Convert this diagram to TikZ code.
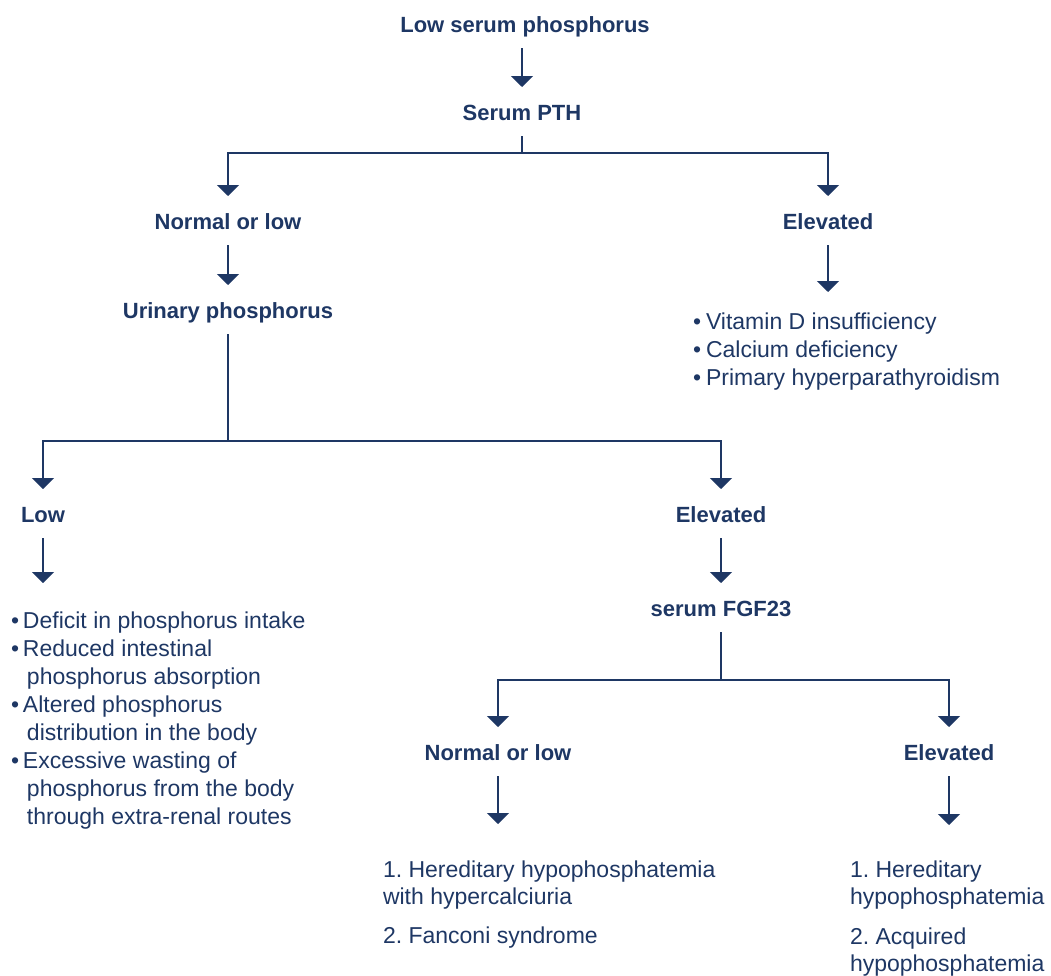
\documentclass[tikz,border=0pt]{standalone}
\usepackage{fontspec}
\setmainfont{Liberation Sans}
\usetikzlibrary{arrows.meta}
\definecolor{navy}{RGB}{30,55,100}
\newcommand\blt[1]{\makebox[#1][l]{•}}
\frenchspacing
\begin{document}
\begin{tikzpicture}[x=1pt,y=-1pt,
  every node/.style={inner sep=0pt,text=navy},
  head/.style={font=\fontsize{22}{26}\selectfont\bfseries,anchor=base,
    text height=17pt,text depth=0pt,outer xsep=0pt,outer ysep=16pt},
  body/.style={font=\fontsize{23}{28}\selectfont,anchor=base west,align=left,outer sep=0pt},
  line/.style={draw=navy,line width=2pt},
  arr/.style={line,-{Triangle[width=22pt,length=11pt]}}]
\useasboundingbox (0,0) rectangle (1051,975);

% headings
\node[head] (lsp) at (525,32)  {Low serum phosphorus};
\node[head] (pth) at (522,120) {Serum PTH};
\node[head] (nl1) at (228,229) {Normal or low};
\node[head] (el1) at (828,229) {Elevated};
\node[head] (uri) at (228,318) {Urinary phosphorus};
\node[head] (low) at (43,522)  {Low};
\node[head] (el2) at (721,522) {Elevated};
\node[head] (fgf) at (721,616) {serum FGF23};
\node[head] (nl2) at (498,760) {Normal or low};
\node[head] (el3) at (949,760) {Elevated};

% lists (anchor = baseline of the last line)
\node[body] (vit) at (693,385) {\blt{13pt}Vitamin D insufficiency\\
  \blt{13pt}Calcium deficiency\\
  \blt{13pt}Primary hyperparathyroidism};
\node[body] (cause) at (11,824) {\blt{12pt}Deficit in phosphorus intake\\
  \blt{12pt}Reduced intestinal\\
  \hspace*{16pt}phosphorus absorption\\
  \blt{12pt}Altered phosphorus\\
  \hspace*{16pt}distribution in the body\\
  \blt{12pt}Excessive wasting of\\
  \hspace*{16pt}phosphorus from the body\\
  \hspace*{16pt}through extra-renal routes};
\node[body,font=\fontsize{23}{27}\selectfont] (hhc) at (383,943) {1. Hereditary hypophosphatemia\\
  with hypercalciuria\\[12pt]
  2. Fanconi syndrome};
\node[body,font=\fontsize{23}{27}\selectfont] (hh) at (850,971) {1. Hereditary\\
  hypophosphatemia\\[13pt]
  2. Acquired\\
  hypophosphatemia};

% junctions and free ends
\coordinate (j1) at (522,153);
\coordinate (j2) at (228,441);
\coordinate (j3) at (721,680);
\coordinate (vitTop) at (828,292);
\coordinate (lowEnd) at (43,583);
\coordinate (nl2End) at (498,824);
\coordinate (el3End) at (949,825);

% connectors
\draw[arr] (lsp.south -| pth) -- (pth);
\draw[line] (pth) -- (j1);
\draw[arr] (j1) -| (nl1);
\draw[arr] (j1) -| (el1);
\draw[arr] (nl1) -- (uri);
\draw[arr] (el1) -- (vitTop);
\draw[line] (uri) -- (j2);
\draw[arr] (j2) -| (low);
\draw[arr] (j2) -| (el2);
\draw[arr] (low) -- (lowEnd);
\draw[arr] (el2) -- (fgf);
\draw[line] (fgf) -- (j3);
\draw[arr] (j3) -| (nl2);
\draw[arr] (j3) -| (el3);
\draw[arr] (nl2) -- (nl2End);
\draw[arr] (el3) -- (el3End);
\end{tikzpicture}
\end{document}
